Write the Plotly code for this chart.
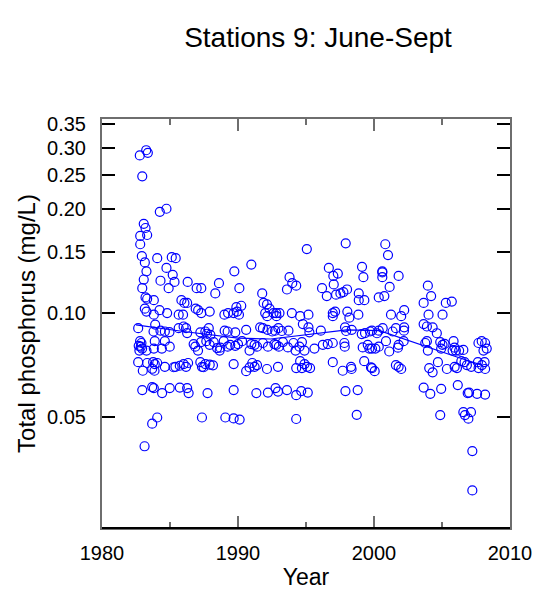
import math
import plotly.graph_objects as go

# Summer (June-Sept) total phosphorus samples, station 9: (decimal year, mg/L)
obs_1980s = [
    (1982.78, 0.285), (1983.25, 0.295), (1983.37, 0.290), (1982.96, 0.248), (1984.25, 0.196), (1984.74, 0.200),
    (1983.07, 0.181), (1983.20, 0.176), (1982.81, 0.167), (1983.32, 0.168), (1982.81, 0.158), (1982.93, 0.146),
    (1983.15, 0.140), (1984.06, 0.144), (1985.13, 0.145), (1985.42, 0.144), (1983.27, 0.132), (1984.74, 0.135),
    (1985.20, 0.129), (1989.73, 0.132), (1983.07, 0.125), (1984.30, 0.124), (1985.33, 0.123), (1986.30, 0.123),
    (1988.60, 0.122), (1984.90, 0.118), (1982.96, 0.118), (1986.96, 0.118), (1987.30, 0.118), (1988.33, 0.114),
    (1990.10, 0.118), (1983.20, 0.111), (1983.32, 0.110), (1983.81, 0.109), (1985.84, 0.109), (1986.06, 0.107),
    (1986.26, 0.107), (1986.89, 0.103), (1987.07, 0.102), (1987.30, 0.100), (1987.92, 0.101), (1983.15, 0.103),
    (1983.27, 0.101), (1983.81, 0.099), (1984.23, 0.102), (1984.79, 0.100), (1985.64, 0.099), (1985.96, 0.099),
    (1989.00, 0.099), (1989.27, 0.100), (1989.68, 0.100), (1989.93, 0.101), (1989.88, 0.104),
    (1983.91, 0.0927), (1982.66, 0.0905), (1983.79, 0.0885), (1984.30, 0.0890), (1984.62, 0.0885),
    (1984.96, 0.0882), (1985.64, 0.0905), (1986.00, 0.0915), (1986.18, 0.0905), (1986.26, 0.0876),
    (1987.23, 0.0880), (1987.60, 0.0885), (1987.85, 0.0905), (1987.72, 0.0872), (1987.97, 0.0865),
    (1989.02, 0.0890), (1989.24, 0.0885), (1989.80, 0.0880),
    (1982.80, 0.0830), (1982.90, 0.0820), (1982.85, 0.0800), (1982.75, 0.0780), (1982.95, 0.0790),
    (1982.70, 0.0805), (1983.27, 0.0780), (1983.88, 0.0830), (1983.81, 0.0790), (1984.62, 0.0830),
    (1984.40, 0.0790), (1984.98, 0.0800), (1986.74, 0.0814), (1986.86, 0.0800), (1987.06, 0.0780),
    (1987.28, 0.0825), (1987.67, 0.0830), (1987.92, 0.0810), (1988.21, 0.0825), (1988.46, 0.0793),
    (1988.65, 0.0780), (1988.95, 0.0830), (1989.24, 0.0800), (1989.43, 0.0810), (1989.80, 0.0805),
    (1988.70, 0.0795),
    (1982.66, 0.0722), (1983.00, 0.0682), (1983.32, 0.0718), (1983.76, 0.0722), (1983.69, 0.0691),
    (1983.88, 0.0713), (1983.86, 0.0682), (1984.06, 0.0718), (1984.62, 0.0700), (1985.40, 0.0700),
    (1985.72, 0.0705), (1986.00, 0.0713), (1986.18, 0.0700), (1986.33, 0.0718), (1987.23, 0.0722),
    (1987.35, 0.0700), (1987.60, 0.0713), (1987.92, 0.0710), (1988.16, 0.0707), (1989.68, 0.0713),
    (1985.27, 0.0698), (1987.47, 0.0698),
    (1982.96, 0.0600), (1983.69, 0.0612), (1983.81, 0.0608), (1984.42, 0.0588), (1984.98, 0.0608),
    (1985.72, 0.0610), (1986.26, 0.0608), (1986.37, 0.0588), (1987.76, 0.0588), (1989.68, 0.0600),
    (1983.69, 0.0480), (1984.06, 0.0500), (1983.13, 0.0413), (1987.35, 0.0500), (1989.07, 0.0500),
    (1989.68, 0.0497), (1990.12, 0.0493),
]

obs_1990s = [
    (1990.98, 0.138), (1995.06, 0.153), (1997.92, 0.159), (1993.79, 0.127), (1993.99, 0.122), (1994.28, 0.120),
    (1993.60, 0.117), (1996.68, 0.135), (1997.01, 0.128), (1997.34, 0.130), (1997.04, 0.121), (1996.18, 0.118),
    (1996.53, 0.112), (1997.21, 0.113), (1997.53, 0.114), (1997.75, 0.115), (1998.02, 0.117), (1999.12, 0.136),
    (1999.22, 0.127), (1998.88, 0.114), (1998.88, 0.109), (1999.29, 0.109), (1991.78, 0.114), (1991.88, 0.107),
    (1992.13, 0.106), (1992.32, 0.103), (1990.24, 0.105), (1992.00, 0.100), (1992.61, 0.100), (1992.81, 0.100),
    (1993.05, 0.100), (1992.15, 0.098), (1992.83, 0.098), (1993.96, 0.100), (1994.57, 0.098), (1995.18, 0.099),
    (1994.77, 0.093), (1995.18, 0.091), (1996.97, 0.100), (1997.14, 0.101), (1998.04, 0.101), (1998.19, 0.097),
    (1998.85, 0.099), (1996.97, 0.098), (1990.07, 0.099),
    (1990.60, 0.0895), (1991.63, 0.0910), (1991.83, 0.0905), (1992.17, 0.0895), (1992.51, 0.0885),
    (1992.73, 0.0890), (1992.97, 0.0905), (1993.22, 0.0888), (1993.71, 0.0890), (1995.25, 0.0880),
    (1996.09, 0.0890), (1997.87, 0.0910), (1997.95, 0.0888), (1998.36, 0.0895), (1999.10, 0.0870),
    (1999.34, 0.0876), (1999.71, 0.0885),
    (1990.00, 0.0814), (1990.30, 0.0830), (1990.85, 0.0780), (1990.98, 0.0814), (1991.22, 0.0810),
    (1991.40, 0.0800), (1991.83, 0.0820), (1992.20, 0.0800), (1992.68, 0.0814), (1992.81, 0.0810),
    (1993.00, 0.0800), (1993.30, 0.0825), (1993.67, 0.0796), (1994.08, 0.0820), (1994.23, 0.0780),
    (1994.52, 0.0800), (1994.70, 0.0825), (1994.89, 0.0780), (1995.62, 0.0790), (1996.24, 0.0810),
    (1996.60, 0.0814), (1996.97, 0.0820), (1997.82, 0.0820), (1997.85, 0.0800), (1999.17, 0.0796),
    (1999.54, 0.0810), (1999.66, 0.0790),
    (1990.60, 0.0680), (1990.85, 0.0697), (1991.05, 0.0718), (1991.22, 0.0700), (1991.40, 0.0708),
    (1992.13, 0.0690), (1992.94, 0.0700), (1994.28, 0.0694), (1994.57, 0.0727), (1994.70, 0.0694),
    (1994.89, 0.0713), (1995.08, 0.0700), (1995.30, 0.0694), (1996.97, 0.0722), (1997.70, 0.0682),
    (1998.31, 0.0700), (1998.35, 0.0690), (1999.28, 0.0727), (1999.78, 0.0697),
    (1991.35, 0.0588), (1992.20, 0.0590), (1992.76, 0.0608), (1992.94, 0.0594), (1993.60, 0.0600),
    (1994.28, 0.0580), (1994.65, 0.0596), (1995.13, 0.0590), (1997.90, 0.0596), (1998.80, 0.0600),
    (1994.28, 0.0495), (1998.73, 0.0509),
]

obs_2000s = [
    (2000.83, 0.158), (2001.03, 0.147), (2000.61, 0.132), (2000.61, 0.131), (2000.61, 0.127), (2001.81, 0.128),
    (2001.15, 0.119), (2000.35, 0.111), (2000.76, 0.112), (2003.96, 0.120), (2004.20, 0.112), (2003.65, 0.107),
    (2005.28, 0.107), (2005.72, 0.108), (2001.25, 0.099), (2002.00, 0.098), (2002.22, 0.102), (2004.01, 0.099),
    (2005.04, 0.099),
    (1999.85, 0.0890), (2000.22, 0.0875), (2000.35, 0.0890), (2000.64, 0.0905), (2001.37, 0.0885),
    (2001.61, 0.0905), (2002.22, 0.0910), (2002.20, 0.0890), (2003.65, 0.0930), (2003.89, 0.0915),
    (2004.31, 0.0910), (2004.62, 0.0875),
    (1999.85, 0.0790), (2000.10, 0.0790), (2000.35, 0.0800), (2000.88, 0.0830), (2001.12, 0.0775),
    (2001.76, 0.0795), (2001.81, 0.0810), (2002.18, 0.0830), (2003.77, 0.0820), (2003.89, 0.0830),
    (2003.96, 0.0780), (2004.87, 0.0825), (2005.04, 0.0810), (2005.19, 0.0815), (2004.94, 0.0790),
    (2005.85, 0.0830), (2005.92, 0.0795), (2005.78, 0.0780), (2006.02, 0.0780), (2006.26, 0.0780),
    (2006.57, 0.0783), (2007.68, 0.0820), (2007.92, 0.0830), (2008.17, 0.0820), (2008.05, 0.0780),
    (2008.29, 0.0790),
    (1999.85, 0.0694), (2000.05, 0.0680), (2001.61, 0.0708), (2001.81, 0.0700), (2002.00, 0.0690),
    (2004.06, 0.0694), (2004.31, 0.0675), (2004.70, 0.0722), (2005.36, 0.0690), (2005.93, 0.0700),
    (2006.10, 0.0694), (2006.42, 0.0727), (2006.66, 0.0722), (2006.83, 0.0708), (2007.15, 0.0700),
    (2007.64, 0.0722), (2007.69, 0.0694), (2007.93, 0.0708), (2008.13, 0.0722), (2008.17, 0.0690),
    (2003.65, 0.0610), (2004.14, 0.0585), (2004.94, 0.0605), (2006.16, 0.0620), (2006.89, 0.0588),
    (2006.99, 0.0590), (2007.58, 0.0585), (2008.17, 0.0582),
    (2004.87, 0.0508), (2006.57, 0.0518), (2006.69, 0.0508), (2007.13, 0.0518), (2006.94, 0.0496),
    (2007.23, 0.0400), (2007.23, 0.0308),
]

# Smoothed trend through the samples
trend_year = [1982.5, 1986.0, 1990.0, 1992.4, 1998.0, 2000.4, 2006.1, 2007.8]
trend_tp = [0.0925, 0.0885, 0.0847, 0.0842, 0.0895, 0.0890, 0.0747, 0.0710]

year_ticks = [1980, 1990, 2000, 2010]
year_minor_ticks = [1985, 1995, 2005]
tp_ticks = [0.05, 0.10, 0.15, 0.20, 0.25, 0.30, 0.35]
tp_tick_text = ["0.05", "0.10", "0.15", "0.20", "0.25", "0.30", "0.35"]

samples = obs_1980s + obs_1990s + obs_2000s
sample_year = [s[0] for s in samples]
sample_tp = [s[1] for s in samples]

BLUE = "rgb(0,0,255)"
AXIS_GREY = "#6e6e6e"
FONT = "Liberation Sans, Arial, sans-serif"
YEAR_RANGE = [1980, 2010]
TP_RANGE = [math.log10(0.024), math.log10(0.363)]

fig = go.Figure()
fig.add_trace(go.Scatter(
    x=sample_year, y=sample_tp, mode="markers",
    marker=dict(symbol="circle-open", size=9, color=BLUE, line=dict(width=1.2, color=BLUE)),
    hoverinfo="x+y",
))
fig.add_trace(go.Scatter(
    x=trend_year, y=trend_tp, mode="lines",
    line=dict(color=BLUE, width=1.2),
    hoverinfo="skip",
))
# empty trace that carries the top/right tick frame
fig.add_trace(go.Scatter(x=[], y=[], xaxis="x2", yaxis="y2", hoverinfo="skip"))

x_ticks = dict(
    tickmode="array", tickvals=year_ticks,
    ticks="inside", ticklen=12, tickwidth=2, tickcolor=AXIS_GREY,
    minor=dict(tickmode="array", tickvals=year_minor_ticks, ticks="inside",
               ticklen=6, tickwidth=2, tickcolor=AXIS_GREY),
    showgrid=False, zeroline=False, automargin=False,
)
y_ticks = dict(
    type="log",
    tickmode="array", tickvals=tp_ticks, ticktext=tp_tick_text,
    ticks="inside", ticklen=13, tickwidth=2, tickcolor="black",
    showgrid=False, zeroline=False, automargin=False,
)

fig.update_layout(
    width=539, height=590,
    margin=dict(l=102, r=29, t=119, b=62),
    paper_bgcolor="white", plot_bgcolor="white",
    showlegend=False,
    font=dict(family=FONT, color="black"),
    title=dict(
        text="Stations 9: June-Sept",
        x=318 / 539, xanchor="center",
        y=1 - 37 / 590, yanchor="middle",
        font=dict(size=28, family=FONT, color="black"),
    ),
    xaxis=dict(
        range=YEAR_RANGE,
        showline=True, linecolor=AXIS_GREY, linewidth=2, mirror=True,
        tickfont=dict(size=20),
        ticklabelstandoff=6,
        title=dict(text="Year", font=dict(size=23), standoff=12),
        **x_ticks,
    ),
    yaxis=dict(
        range=TP_RANGE,
        showline=True, linecolor=AXIS_GREY, linewidth=2, mirror=True,
        tickfont=dict(size=20),
        ticklabelstandoff=10,
        title=dict(text="Total phosphorus (mg/L)", font=dict(size=24), standoff=5),
        **y_ticks,
    ),
    xaxis2=dict(range=YEAR_RANGE, overlaying="x", side="top", anchor="y2",
                showticklabels=False, showline=False, **x_ticks),
    yaxis2=dict(range=TP_RANGE, overlaying="y", side="right", anchor="x2",
                showticklabels=False, showline=False, **y_ticks),
    shapes=[dict(type="line", xref="paper", yref="paper", x0=0, x1=1, y0=0, y1=0,
                 line=dict(color="black", width=2))],
)

fig.write_html("out.html")
